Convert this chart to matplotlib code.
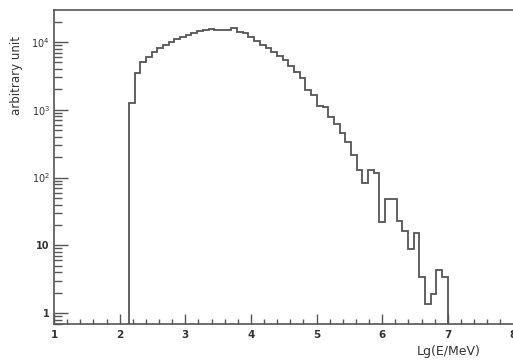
import numpy as np
import matplotlib
matplotlib.use('Agg')
import matplotlib.pyplot as plt
from matplotlib.ticker import FixedLocator, FixedFormatter, MultipleLocator, NullFormatter

# bin edges (Lg(E/MeV)) and contents
lo_edge = 2.14
hi_edge = 7.0
counts = [1245, 3520, 5100, 6070, 7050, 8080, 9040, 10100, 10960, 12000,
          12700, 13400, 14500, 15000, 15600, 15300, 15300, 15000, 15900, 14200,
          13400, 11900, 10300, 9040, 8080, 7050, 6210, 5420, 4420, 3610,
          2940, 1950, 1650, 1136, 1100, 782, 617, 454, 334, 215,
          129, 82, 129, 115, 22.3, 47.7, 47.7, 22.8, 16.2, 8.7,
          15.3, 3.37, 1.36, 1.89, 4.3, 3.43]
edges = np.linspace(lo_edge, hi_edge, len(counts) + 1)

ytick_vals = [1, 10, 100, 1000, 10000]
ytick_labels = ['1', '10', '$10^{2}$', '$10^{3}$', '$10^{4}$']
xtick_vals = [1, 2, 3, 4, 5, 6, 7, 8]

W, H = 513, 360
fig = plt.figure(figsize=(W/100, H/100), dpi=100)
ax = fig.add_axes([54/W, (H-324)/H, (513.5-54)/W, (324-10)/H])

col = '#555555'
ax.stairs(counts, edges, baseline=0.01, color=col, linewidth=1.3)

ax.set_yscale('log')
ax.set_xlim(1, 8)
ax.set_ylim(0.69, 29700)

ax.xaxis.set_major_locator(FixedLocator(xtick_vals))
ax.xaxis.set_minor_locator(MultipleLocator(0.2))
ax.yaxis.set_major_locator(FixedLocator(ytick_vals))
ax.yaxis.set_major_formatter(FixedFormatter(ytick_labels))
ax.yaxis.set_minor_formatter(NullFormatter())

ax.tick_params(which='both', direction='in', top=False, right=False,
               color=col, width=1.0)
ax.tick_params(axis='x', which='major', length=7, pad=4, labelsize=7.5)
ax.tick_params(axis='x', which='minor', length=3.5)
ax.tick_params(axis='y', which='major', length=10, pad=3, labelsize=7)
ax.tick_params(axis='y', which='minor', length=6)
for lab in ax.get_xticklabels() + ax.get_yticklabels():
    lab.set_fontweight('bold')
    lab.set_color('#333333')

for s in ax.spines.values():
    s.set_color(col)
    s.set_linewidth(1.2)
ax.spines['right'].set_color('#cccccc')

fig.text(16.5/W, (H-36)/H, 'arbitrary unit', rotation=90, ha='center', va='top',
         fontsize=8.5, color='#333333')
fig.text(481/W, (H-351)/H, 'Lg(E/MeV)', ha='right', va='center',
         fontsize=9, color='#333333')

fig.savefig('out.png', dpi=100)
